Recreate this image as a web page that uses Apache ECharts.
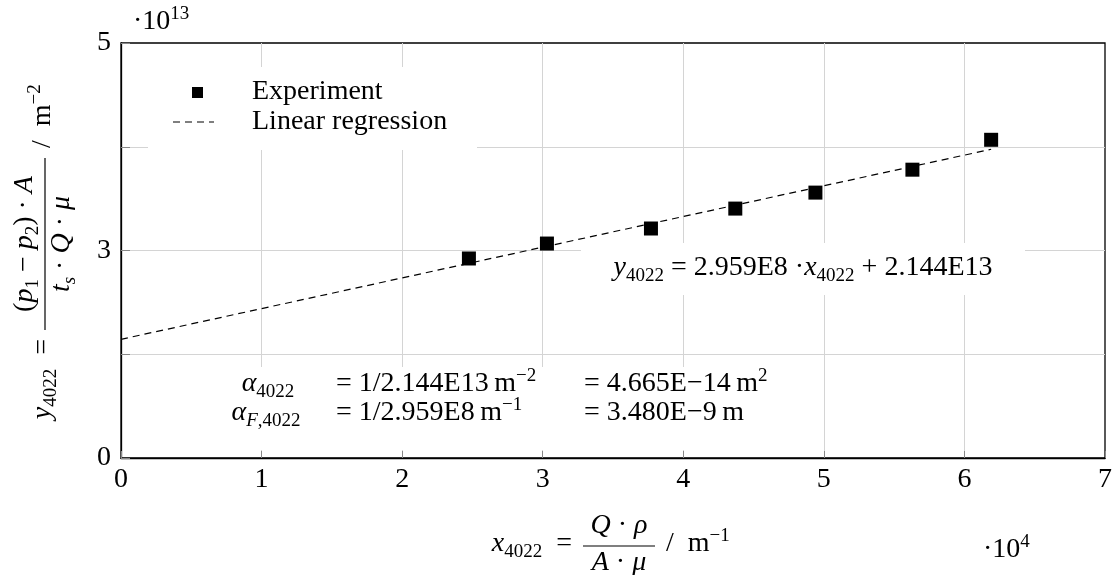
<!DOCTYPE html>
<html>
<head>
<meta charset="utf-8">
<script src="https://cdn.jsdelivr.net/npm/echarts@6/dist/echarts.min.js"></script>
<style>
  html, body { margin: 0; padding: 0; background: #fff; }
  #chart { width: 1118px; height: 575px; }
</style>
</head>
<body>
<div id="chart"></div>
<script>
// Measured points: x in units of 1e4 m^-1, y in units of 1e13 m^-2
const xValues = [2.475, 3.03, 3.77, 4.37, 4.94, 5.63, 6.19];
const yValues = [2.923, 3.067, 3.212, 3.404, 3.558, 3.779, 4.067];

// Linear fit y = slope * x + intercept (SI units)
const slope = 2.959e8;
const intercept = 2.144e13;
const xScale = 1e4;
const yScale = 1e13;

// Axis ticks and the labels printed at them
const xTicks = [0, 1, 2, 3, 4, 5, 6, 7];
const xTickLabels = ['0', '1', '2', '3', '4', '5', '6', '7'];
const yTicks = [1, 2, 3, 4, 5];
const yTickLabels = ['0', '', '3', '', '5'];

const FONT = 'Liberation Serif';
const BIG = 28;
const SMALL = 19;

const rich = {
  r: { fontFamily: FONT, fontSize: BIG, fill: '#000', color: '#000' },
  i: { fontFamily: FONT, fontSize: BIG, fontStyle: 'italic', fill: '#000', color: '#000' },
  sub: { fontFamily: FONT, fontSize: SMALL, padding: [16, 0, 0, 0], fill: '#000', color: '#000' },
  isub: { fontFamily: FONT, fontSize: SMALL, fontStyle: 'italic', padding: [16, 0, 0, 0], fill: '#000', color: '#000' },
  sup: { fontFamily: FONT, fontSize: SMALL, padding: [0, 0, 16, 0], fill: '#000', color: '#000' }
};

function txt(text, x, y, align, extra) {
  return Object.assign({
    type: 'text',
    z: 5,
    style: {
      text: text, x: x, y: y,
      align: align || 'left', verticalAlign: 'middle',
      rich: rich, fontFamily: FONT, fontSize: BIG, fill: '#000'
    }
  }, extra || {});
}
function box(x, y, w, h) {
  return { type: 'rect', z: 4, shape: { x: x, y: y, width: w, height: h },
           style: { fill: '#fff', stroke: null } };
}
function bar(x1, y1, x2, y2) {
  return { type: 'line', z: 5, shape: { x1: x1, y1: y1, x2: x2, y2: y2 },
           style: { stroke: '#000', lineWidth: 1.2 } };
}

const scatterData = xValues.map((x, k) => [x, yValues[k]]);
const fitAt = x => (slope * x * xScale + intercept) / yScale;
const xEnd = xValues[xValues.length - 1];
const fitData = [[0, fitAt(0)], [xEnd, fitAt(xEnd)]];

const chart = echarts.init(document.getElementById('chart'), null, { renderer: 'canvas' });

chart.setOption({
  animation: false,
  backgroundColor: '#fff',
  grid: {
    left: 121, right: 13, top: 43, bottom: 117,
    show: true, borderColor: '#000', borderWidth: 1.3, backgroundColor: 'transparent'
  },
  xAxis: {
    type: 'value', min: xTicks[0], max: xTicks[xTicks.length - 1], interval: 1,
    axisLine: { show: true, onZero: false, lineStyle: { color: '#000', width: 1.3 } },
    axisTick: { show: true, inside: true, length: 7, lineStyle: { color: '#888', width: 1 } },
    splitLine: { show: true, showMinLine: false, showMaxLine: false,
                 lineStyle: { color: '#d4d4d4', width: 1 } },
    axisLabel: {
      fontFamily: FONT, fontSize: BIG, color: '#000', margin: 8,
      formatter: v => xTickLabels[xTicks.indexOf(v)] ?? ''
    }
  },
  yAxis: {
    type: 'value', min: yTicks[0], max: yTicks[yTicks.length - 1], interval: 1,
    axisLine: { show: true, onZero: false, lineStyle: { color: '#000', width: 1.3 } },
    axisTick: { show: true, inside: true, length: 9, lineStyle: { color: '#888', width: 1 } },
    splitLine: { show: true, showMinLine: false, showMaxLine: false,
                 lineStyle: { color: '#d4d4d4', width: 1 } },
    axisLabel: {
      fontFamily: FONT, fontSize: BIG, color: '#000', margin: 10,
      formatter: v => yTickLabels[yTicks.indexOf(v)] ?? ''
    }
  },
  series: [
    {
      name: 'Linear regression', type: 'line', data: fitData,
      symbol: 'none', z: 6, silent: true,
      lineStyle: { color: '#000', width: 1.2, type: [7, 5] }
    },
    {
      name: 'Experiment', type: 'scatter', data: scatterData,
      symbol: 'rect', symbolSize: 14, z: 7,
      itemStyle: { color: '#000', opacity: 1 }
    }
  ],
  graphic: [
    // legend
    box(148, 67, 329, 83),
    { type: 'rect', z: 5, shape: { x: 192, y: 87, width: 11, height: 11 }, style: { fill: '#000' } },
    { type: 'line', z: 5, shape: { x1: 173, y1: 122, x2: 214, y2: 122 },
      style: { stroke: '#000', lineWidth: 1.2, lineDash: [7, 5] } },
    txt('{r|Experiment}', 252, 92),
    txt('{r|Linear regression}', 252, 122),

    // fit equation
    box(581, 243, 444, 52),
    txt('{i|y}{sub|4022}{r| = 2.959E8 ·}{i|x}{sub|4022}{r| + 2.144E13}', 803, 268, 'center'),

    // derived coefficients
    box(205, 367, 585, 83),
    txt('{i|α}{sub|4022}', 268, 384, 'center'),
    txt('{i|α}{isub|F}{sub|,4022}', 266, 413, 'center'),
    txt('{r|= 1/2.144E13\u2009m}{sup|−2}', 336, 384),
    txt('{r|= 1/2.959E8\u2009m}{sup|−1}', 336, 413),
    txt('{r|= 4.665E−14\u2009m}{sup|2}', 584, 384),
    txt('{r|= 3.480E−9\u2009m}', 584, 413),

    // axis multipliers
    txt('{r|·10}{sup|13}', 133, 22),
    txt('{r|·10}{sup|4}', 983, 550),

    // x axis title
    {
      type: 'group', x: 619, y: 546,
      children: [
        txt('{i|x}{sub|4022}{r|\u2002=}', -47, -2, 'right'),
        txt('{i|Q}{r| · }{i|ρ}', 0, -20, 'center'),
        bar(-36, 0, 36, 0),
        txt('{i|A}{r| · }{i|μ}', 0, 17, 'center'),
        txt('{r|/\u2002m}{sup|−1}', 47, -2, 'left')
      ]
    },
    // y axis title, reading bottom to top
    {
      type: 'group', x: 45, y: 244, rotation: Math.PI / 2,
      children: [
        txt('{i|y}{sub|4022}{r|\u2002=}', -95, -2, 'right'),
        txt('{r|(}{i|p}{sub|1}{r| − }{i|p}{sub|2}{r|) · }{i|A}', 0, -20, 'center'),
        bar(-86, 0, 86, 0),
        txt('{i|t}{isub|s}{r| · }{i|Q}{r| · }{i|μ}', 0, 17, 'center'),
        txt('{r|/\u2002m}{sup|−2}', 96, -2, 'left')
      ]
    }
  ]
});
</script>
</body>
</html>
